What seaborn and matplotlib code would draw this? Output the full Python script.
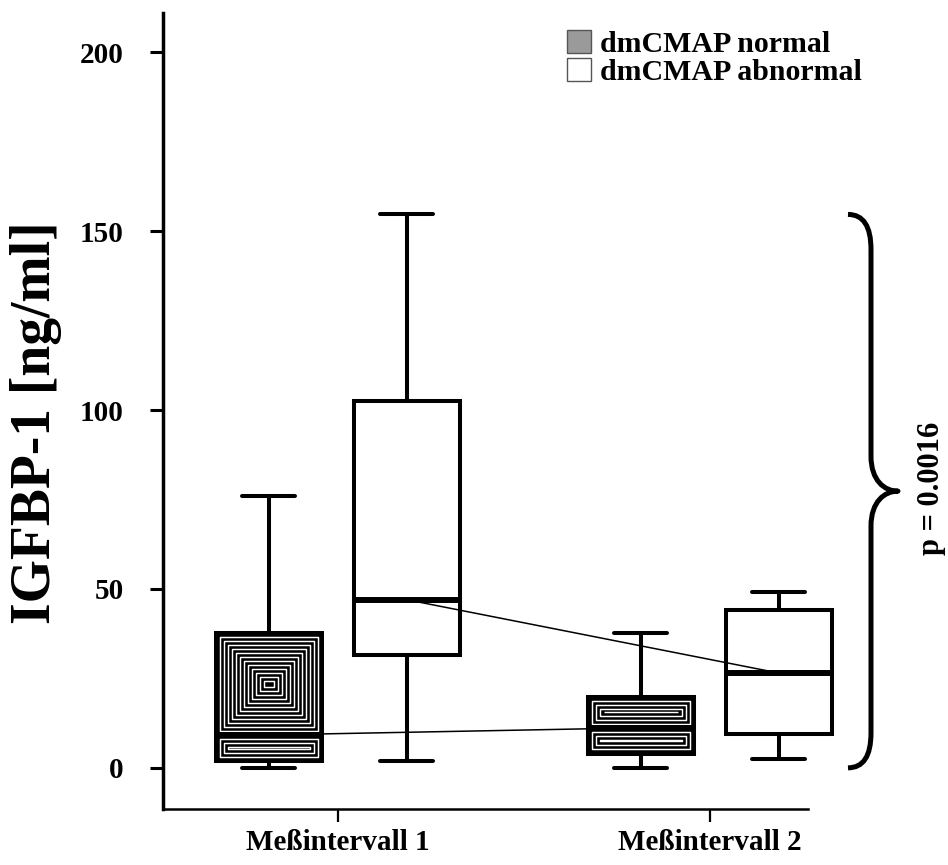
import numpy as np
import pandas as pd
import seaborn as sns
import matplotlib.pyplot as plt
import matplotlib.transforms as mtransforms
from matplotlib.patches import Patch, Rectangle, PathPatch
from matplotlib.path import Path

# ---- data (five-number summaries: min, Q1, median, Q3, max)
intervals = ["Meßintervall 1", "Meßintervall 2"]
groups = ["dmCMAP normal", "dmCMAP abnormal"]
normal_1 = [0.0, 2.0, 9.2, 37.7, 76.0]
abnormal_1 = [2.0, 31.6, 47.0, 102.5, 154.7]
normal_2 = [0.0, 4.0, 11.2, 19.8, 37.7]
abnormal_2 = [2.5, 9.5, 26.5, 44.1, 49.2]
y_ticks = [0, 50, 100, 150, 200]
y_label = "IGFBP-1 [ng/ml]"
p_text = "p = 0.0016"

series = {
    (intervals[0], groups[0]): normal_1,
    (intervals[0], groups[1]): abnormal_1,
    (intervals[1], groups[0]): normal_2,
    (intervals[1], groups[1]): abnormal_2,
}
rows = []
for (iv, g), vals in series.items():
    for v in vals:
        rows.append({"interval": iv, "group": g, "value": v})
df = pd.DataFrame(rows)

sns.set_theme(style="ticks")
plt.rcParams["font.family"] = ["Liberation Serif", "DejaVu Serif"]
plt.rcParams["font.weight"] = "bold"
plt.rcParams["text.color"] = "black"
plt.rcParams["axes.labelcolor"] = "black"
plt.rcParams["xtick.color"] = "black"
plt.rcParams["ytick.color"] = "black"
plt.rcParams["axes.edgecolor"] = "black"

W, H = 948, 865
fig = plt.figure(figsize=(W / 100, H / 100), dpi=100)
ax_left, ax_right = 163, 900
ax = fig.add_axes([ax_left / W, 1 - 809 / H, (ax_right - ax_left) / W, (809 - 13) / H])

sns.boxplot(
    data=df, x="interval", y="value", hue="group",
    order=intervals, hue_order=groups,
    palette={groups[0]: "black", groups[1]: "white"}, saturation=1,
    width=0.742, gap=0.232, whis=(0, 100), linecolor="black", linewidth=2.9,
    medianprops={"linewidth": 4.3}, legend=False, ax=ax,
)

ax.set_xlim(-0.470, -0.470 + (ax_right - ax_left) / 372.0)
ax.set_ylim(-11.5, 211)
ax.set_yticks(y_ticks)
ax.set_xlabel("")
for s in ["top", "right"]:
    ax.spines[s].set_visible(False)
ax.spines["left"].set_linewidth(2.5)
ax.spines["bottom"].set_linewidth(1.8)
ax.spines["bottom"].set_bounds(-0.470, 1.263)
ax.tick_params(axis="y", direction="out", length=9.4, width=2.2, pad=19,
               labelsize=21, colors="black")
ax.tick_params(axis="x", direction="out", length=9.4, width=1.6, pad=5,
               labelsize=21, colors="black")
for lab in ax.get_xticklabels() + ax.get_yticklabels():
    lab.set_fontweight("bold")
ax.set_ylabel(y_label, fontsize=40, fontweight="bold", color="black")
ax.yaxis.set_label_coords(-(163 - 62) / (ax_right - ax_left), 0.485)

# ---- concentric ring fill for the "normal" boxes, derived from seaborn's patches
inv = ax.transData.inverted()
centers = {}
for patch in list(ax.patches):
    ext = patch.get_path().transformed(patch.get_transform()).get_extents()
    cx_d, _ = inv.transform(((ext.x0 + ext.x1) / 2, (ext.y0 + ext.y1) / 2))
    idx = int(round(cx_d))
    fc = patch.get_facecolor()
    g = groups[0] if fc[0] < 0.5 else groups[1]
    iv = intervals[idx]
    med = float(np.median(series[(iv, g)]))
    centers[(iv, g)] = (cx_d, med)
    if g != groups[0]:
        continue
    med_px = ax.transData.transform((0, med))[1]
    halves = [(ext.y0, med_px), (med_px, ext.y1)]
    for ya, yb in halves:
        xa, xb = ext.x0, ext.x1
        hw, hh = (xb - xa) / 2, (yb - ya) / 2
        step = 4.0
        d = 4.2
        while d < min(hw, hh) + 1.0:
            x0p, x1p = xa + d, xb - d
            y0p, y1p = ya + d, yb - d
            if y1p <= y0p:
                y0p = y1p = (ya + yb) / 2
            (dx0, dy0), (dx1, dy1) = inv.transform([(x0p, y0p), (x1p, y1p)])
            ax.add_patch(Rectangle((dx0, dy0), dx1 - dx0, dy1 - dy0,
                                   facecolor="none", edgecolor="white",
                                   linewidth=1.05, joinstyle="round",
                                   zorder=2.05))
            d += step

# ---- lines joining the medians of each group
for g in groups:
    xs = [centers[(iv, g)][0] for iv in intervals]
    ys = [centers[(iv, g)][1] for iv in intervals]
    ax.plot(xs, ys, color="black", linewidth=1.1, zorder=3)

# ---- legend
handles = [Patch(facecolor="#9a9a9a", edgecolor="#555555", linewidth=1.0),
           Patch(facecolor="white", edgecolor="#555555", linewidth=1.0)]
leg = ax.legend(handles, groups, loc="upper left",
                bbox_to_anchor=(567 / W, 1 - 30 / H), bbox_transform=fig.transFigure,
                frameon=False,
                prop={"family": "Liberation Serif", "weight": "bold", "size": 21.5},
                handlelength=0.8, handleheight=0.8, handletextpad=0.3,
                labelspacing=0.02, borderpad=0, borderaxespad=0)
for t in leg.get_texts():
    t.set_color("black")

# ---- brace with p-value to the right of the plot
allvals = np.concatenate([normal_1, abnormal_1, normal_2, abnormal_2])
y0, y1 = float(allvals.min()), float(allvals.max())
ym = (y0 + y1) / 2
ppu = ax.transData.transform((0, 1))[1] - ax.transData.transform((0, 0))[1]
c = 35 / ppu
xe, xv, xt = 848 / W, 871 / W, 898 / W
verts = [
    (xe, y1), (xv, y1), (xv, y1 - c),
    (xv, ym + c),
    (xv, ym + 0.3 * c), (xv + 0.5 * (xt - xv), ym), (xt, ym),
    (xv + 0.5 * (xt - xv), ym), (xv, ym - 0.3 * c), (xv, ym - c),
    (xv, y0 + c),
    (xv, y0), (xe, y0),
]
codes = [Path.MOVETO, Path.CURVE3, Path.CURVE3,
         Path.LINETO,
         Path.CURVE4, Path.CURVE4, Path.CURVE4,
         Path.CURVE4, Path.CURVE4, Path.CURVE4,
         Path.LINETO,
         Path.CURVE3, Path.CURVE3]
blend = mtransforms.blended_transform_factory(fig.transFigure, ax.transData)
ax.add_patch(PathPatch(Path(verts, codes), facecolor="none", edgecolor="black",
                       linewidth=3.6, transform=blend, clip_on=False,
                       capstyle="butt", joinstyle="round"))
fig.text(932 / W, 1 - 488 / H, p_text, rotation=90, ha="center", va="center",
         fontsize=22, fontweight="bold", color="black")

fig.savefig("out.png", dpi=100)
